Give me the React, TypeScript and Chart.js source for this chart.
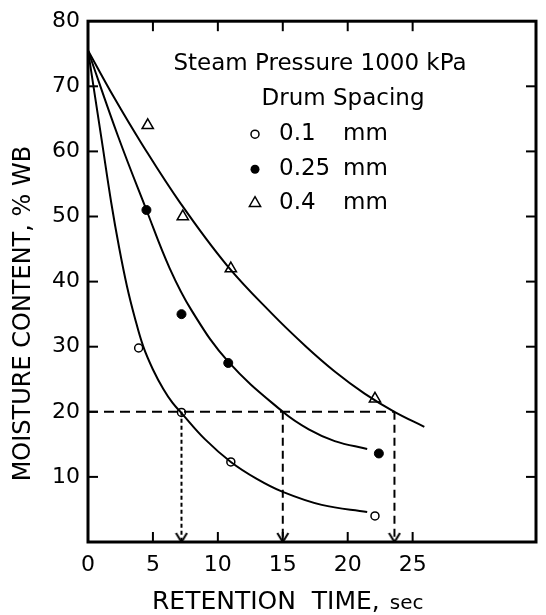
import { useEffect, useRef } from 'react';
import { Chart, registerables } from 'chart.js';

Chart.register(...registerables);

const FONT = '"DejaVu Sans", sans-serif';

// Measured points (retention time in s, moisture content % w.b.)
const spacing01X = [3.9, 7.2, 11.0, 22.1];
const spacing01Y = [29.8, 19.9, 12.3, 4.0];
const spacing025X = [4.5, 7.2, 10.8, 22.4];
const spacing025Y = [51, 35, 27.5, 13.6];
const spacing04X = [4.6, 7.3, 11.0, 22.1];
const spacing04Y = [64, 50, 42, 22];

// Hand-drawn fitted curves
const curve01X = [0, 1.05, 1.8, 2.4, 3.0, 3.6, 4.26, 5, 5.8, 6.5, 7.2, 9, 11, 13, 15, 18, 21.5];
const curve01Y = [75.5, 61.8, 52, 45.2, 39.3, 34.5, 30, 26.5, 23.5, 21.4, 19.8, 15.8, 12.3, 9.7, 7.7, 5.7, 4.6];
const curve025X = [0, 2.3, 4.5, 6.3, 8, 10.8, 15, 17, 19, 21.5];
const curve025Y = [75.5, 62.4, 51, 42, 35.5, 27.7, 20, 17.3, 15.5, 14.3];
const curve04X = [0, 2, 4.1, 7.1, 10.7, 14.2, 16.8, 19, 21.3, 23.6, 25.9];
const curve04Y = [75.5, 68.3, 61.3, 52.1, 42.5, 35, 30, 26.2, 22.8, 20, 17.7];

// Reading of the 20 % moisture level
const targetMoisture = 20;
const targetTimes = [7.2, 15.0, 23.6];

const spacingLabels = ['0.1', '0.25', '0.4'];
const spacingUnit = 'mm';
const legendTitle = 'Steam Pressure 1000 kPa';
const legendSubtitle = 'Drum Spacing';
const yTitle = 'MOISTURE CONTENT, % WB';
const xTitleMain = 'RETENTION  TIME,';
const xTitleUnit = 'sec';

const xLabelledMax = 25;

function toPoints(xs: number[], ys: number[]) {
  return xs.map((x, i) => ({ x, y: ys[i] }));
}

function makeArrow(): HTMLCanvasElement {
  const c = document.createElement('canvas');
  c.width = 14;
  c.height = 20;
  const g = c.getContext('2d')!;
  g.strokeStyle = '#000';
  g.lineWidth = 2;
  g.beginPath();
  g.moveTo(1.5, 1);
  g.lineTo(7, 10);
  g.lineTo(12.5, 1);
  g.stroke();
  return c;
}

const framePlugin = {
  id: 'frameAndText',
  afterDraw(chart: any) {
    const { ctx, chartArea, scales } = chart;
    const { left, right, top, bottom } = chartArea;
    const xs = scales.x;
    const ys = scales.y;
    ctx.save();
    ctx.strokeStyle = '#000';
    ctx.fillStyle = '#000';
    ctx.lineWidth = 3;
    ctx.strokeRect(left, top, right - left, bottom - top);
    ctx.lineWidth = 2;
    const tl = 10;
    const seg = (a: number, b: number, c: number, d: number) => {
      ctx.beginPath();
      ctx.moveTo(a, b);
      ctx.lineTo(c, d);
      ctx.stroke();
    };
    xs.ticks.forEach((t: any) => {
      if (t.value > 0 && t.value <= xLabelledMax) {
        const px = xs.getPixelForValue(t.value);
        seg(px, bottom, px, bottom - tl);
        seg(px, top, px, top + tl);
      }
    });
    ys.ticks.forEach((t: any) => {
      if (t.value > 0 && t.value < ys.max) {
        const py = ys.getPixelForValue(t.value);
        seg(left, py, left + tl, py);
        seg(right, py, right - tl, py);
      }
    });

    // y title
    ctx.save();
    ctx.translate(left - 64, (top + bottom) / 2 + 32);
    ctx.rotate(-Math.PI / 2);
    ctx.font = `24px ${FONT}`;
    ctx.textAlign = 'center';
    ctx.textBaseline = 'middle';
    ctx.fillText(yTitle, 0, 0);
    ctx.restore();

    // x title
    ctx.textBaseline = 'alphabetic';
    ctx.textAlign = 'left';
    ctx.font = `25px ${FONT}`;
    const xt = left + 64;
    const yt = bottom + 67;
    ctx.fillText(xTitleMain, xt, yt);
    const w = ctx.measureText(xTitleMain).width;
    ctx.font = `20px ${FONT}`;
    ctx.fillText(xTitleUnit, xt + w + 10, yt);

    // legend
    ctx.font = `23px ${FONT}`;
    ctx.textAlign = 'center';
    ctx.textBaseline = 'middle';
    ctx.fillText(legendTitle, left + 232, top + 43);
    ctx.fillText(legendSubtitle, left + 255, top + 78);
    const rowsY = [top + 113, top + 148, top + 182];
    const mx = left + 167;
    ctx.textAlign = 'left';
    rowsY.forEach((ry, i) => {
      ctx.fillText(spacingLabels[i], left + 191, ry);
      ctx.fillText(spacingUnit, left + 255, ry);
    });
    ctx.lineWidth = 1.5;
    ctx.beginPath();
    ctx.arc(mx, rowsY[0], 4, 0, Math.PI * 2);
    ctx.fillStyle = '#fff';
    ctx.fill();
    ctx.stroke();
    ctx.fillStyle = '#000';
    ctx.beginPath();
    ctx.arc(mx, rowsY[1], 4.5, 0, Math.PI * 2);
    ctx.fill();
    const r = 6.5;
    ctx.beginPath();
    ctx.moveTo(mx, rowsY[2] - r);
    ctx.lineTo(mx + r * 0.866, rowsY[2] + r * 0.5);
    ctx.lineTo(mx - r * 0.866, rowsY[2] + r * 0.5);
    ctx.closePath();
    ctx.stroke();
    ctx.restore();
  },
};

export default function App() {
  const ref = useRef<HTMLCanvasElement>(null);
  useEffect(() => {
    const arrow = makeArrow();
    const curveStyle = {
      showLine: true,
      borderColor: '#000',
      borderWidth: 2,
      pointRadius: 0,
      tension: 0.4,
      fill: false,
    };
    const guideDatasets = targetTimes.map((t, i) => ({
      data: [
        { x: t, y: targetMoisture },
        { x: t, y: 0 },
      ],
      showLine: true,
      borderColor: '#000',
      borderWidth: 2,
      borderDash: i === 0 ? [4, 3] : [8, 5],
      pointRadius: [0, 6],
      pointStyle: arrow,
      fill: false,
    }));
    const chart = new Chart(ref.current!, {
      type: 'scatter',
      data: {
        datasets: [
          {
            data: [
              { x: 0, y: targetMoisture },
              { x: targetTimes[2], y: targetMoisture },
            ],
            showLine: true,
            borderColor: '#000',
            borderWidth: 2,
            borderDash: [10, 6],
            pointRadius: 0,
          } as any,
          ...guideDatasets,
          { data: toPoints(curve01X, curve01Y), ...curveStyle },
          { data: toPoints(curve025X, curve025Y), ...curveStyle },
          { data: toPoints(curve04X, curve04Y), ...curveStyle },
          {
            label: spacingLabels[0],
            data: toPoints(spacing01X, spacing01Y),
            pointStyle: 'circle',
            pointRadius: 4,
            pointBorderWidth: 1.5,
            pointBorderColor: '#000',
            pointBackgroundColor: '#fff',
          },
          {
            label: spacingLabels[1],
            data: toPoints(spacing025X, spacing025Y),
            pointStyle: 'circle',
            pointRadius: 4.5,
            pointBorderWidth: 1,
            pointBorderColor: '#000',
            pointBackgroundColor: '#000',
          },
          {
            label: spacingLabels[2],
            data: toPoints(spacing04X, spacing04Y),
            pointStyle: 'triangle',
            pointRadius: 6.5,
            pointBorderWidth: 1.5,
            pointBorderColor: '#000',
            pointBackgroundColor: '#fff',
          },
        ],
      },
      options: {
        animation: false,
        responsive: true,
        maintainAspectRatio: false,
        events: [],
        layout: { padding: { top: 17, right: 9, left: 0, bottom: 0 } },
        plugins: { legend: { display: false }, tooltip: { enabled: false } },
        scales: {
          x: {
            type: 'linear',
            min: 0,
            max: 34.5,
            grid: { display: false, drawTicks: false },
            border: { display: false },
            afterFit: (s: any) => {
              s.height = 73;
            },
            ticks: {
              stepSize: 5,
              padding: 10,
              color: '#000',
              font: { family: FONT, size: 22 },
              callback: (v: any) => (v <= xLabelledMax ? String(v) : ''),
            },
          },
          y: {
            type: 'linear',
            min: 0,
            max: 80,
            grid: { display: false, drawTicks: false },
            border: { display: false },
            afterFit: (s: any) => {
              s.width = 88;
            },
            ticks: {
              stepSize: 10,
              padding: 8,
              color: '#000',
              font: { family: FONT, size: 22 },
              callback: (v: any) => (v === 0 ? '' : String(v)),
            },
          },
        },
      },
      plugins: [framePlugin],
    } as any);
    return () => chart.destroy();
  }, []);
  return (
    <div style={{ position: 'absolute', left: 0, top: 0, width: 546, height: 615, background: '#fff' }}>
      <canvas ref={ref} />
    </div>
  );
}
